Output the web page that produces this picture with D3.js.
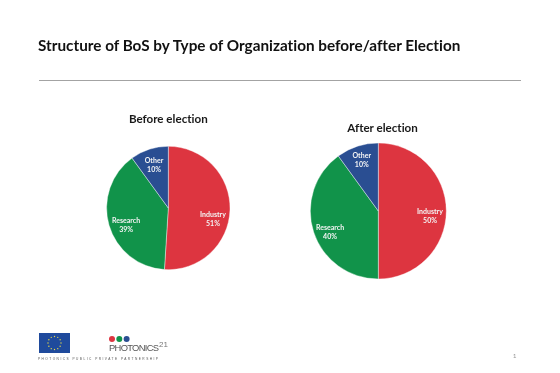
<!DOCTYPE html>
<html><head><meta charset="utf-8">
<script src="https://cdn.jsdelivr.net/npm/d3@7"></script>
<style>html,body{margin:0;padding:0;background:#fff}svg{display:block;filter:blur(0.3px)}text{font-family:Lato,sans-serif;font-variant-ligatures:none}</style>
</head><body><svg id="c" width="560" height="373"></svg>
<script>
const title = "Structure of BoS by Type of Organization before/after Election";
const categories = ["Industry","Research","Other"];
const beforeValues = [51,39,10];
const afterValues = [50,40,10];
const colors = ["#DD3540","#11934A","#2A4E92"];
const svg = d3.select("#c");
svg.append("text").attr("x",38).attr("y",51).attr("font-size",15.3).attr("font-weight",700).attr("fill","#111").text(title);
svg.append("line").attr("x1",39).attr("x2",521).attr("y1",80.5).attr("y2",80.5).attr("stroke","#a3a3a3").attr("stroke-width",1);
const pie = d3.pie().sort(null);
function drawPie(name,vals,cx,cy,r,tx,ty,nudges,gap){
  svg.append("text").attr("x",tx).attr("y",ty).attr("text-anchor","middle").attr("font-size",11.6).attr("font-weight",700).attr("fill","#1a1a1a").text(name);
  const g = svg.append("g").attr("transform",`translate(${cx},${cy})`);
  const arc = d3.arc().innerRadius(0).outerRadius(r);
  const labelArc = d3.arc().innerRadius(r*0.75).outerRadius(r*0.75);
  const arcs = pie(vals);
  g.selectAll("path").data(arcs).join("path").attr("d",arc).attr("fill",(d,i)=>colors[i]).attr("stroke","#fff").attr("stroke-width",0.4);
  const lab = g.selectAll("text").data(arcs).join("text").attr("text-anchor","middle").attr("font-size",7).attr("font-weight",700).attr("fill","#f4f4f4");
  lab.each(function(d,i){
    const c = labelArc.centroid(d);
    const x = c[0]+nudges[i][0], y = c[1]+nudges[i][1];
    const t = d3.select(this);
    t.append("tspan").attr("x",x).attr("y",y-2).text(categories[i]);
    t.append("tspan").attr("x",x).attr("y",y-2+gap).text(d.value+"%");
  });
}
drawPie("Before election",beforeValues,168.3,208,61.7,168.3,123,[[-1.6,9.5],[2.2,3.6],[0,0.5]],9);
drawPie("After election",afterValues,378.3,211,68,382.5,132,[[0.7,5],[0.2,5.6],[-0.8,-2.1]],8.6);
// footer logos
svg.append("rect").attr("x",39).attr("y",333).attr("width",31).attr("height",20).attr("fill","#1f4a9c");
const starAngles = d3.range(12).map(d=>d*30);
svg.append("g").selectAll("circle").data(starAngles).join("circle")
  .attr("cx",d=>54.5+6.5*Math.cos(d*Math.PI/180)).attr("cy",d=>343+6.5*Math.sin(d*Math.PI/180)).attr("r",0.7).attr("fill","#e6d84a");
const dotColors = ["#DD3540","#11934A","#2A4E92"];
svg.append("g").selectAll("circle").data(dotColors).join("circle").attr("cx",(d,i)=>112+i*7.3).attr("cy",339).attr("r",3).attr("fill",d=>d);
svg.append("text").attr("x",109).attr("y",351).attr("font-size",9.4).attr("fill","#555").attr("style","font-family:'Liberation Sans'").attr("textLength",50).text("PHOTONICS");
svg.append("text").attr("x",159).attr("y",347).attr("font-size",8).attr("fill","#777").attr("style","font-family:'Liberation Sans'").text("21");
svg.append("text").attr("x",38).attr("y",360).attr("font-size",3.2).attr("fill","#555").attr("textLength",120).attr("style","font-family:'Liberation Sans'").text("PHOTONICS PUBLIC PRIVATE PARTNERSHIP");
svg.append("text").attr("x",514.7).attr("y",358).attr("font-size",6.5).attr("text-anchor","middle").attr("fill","#999").text("1");
</script></body></html>
